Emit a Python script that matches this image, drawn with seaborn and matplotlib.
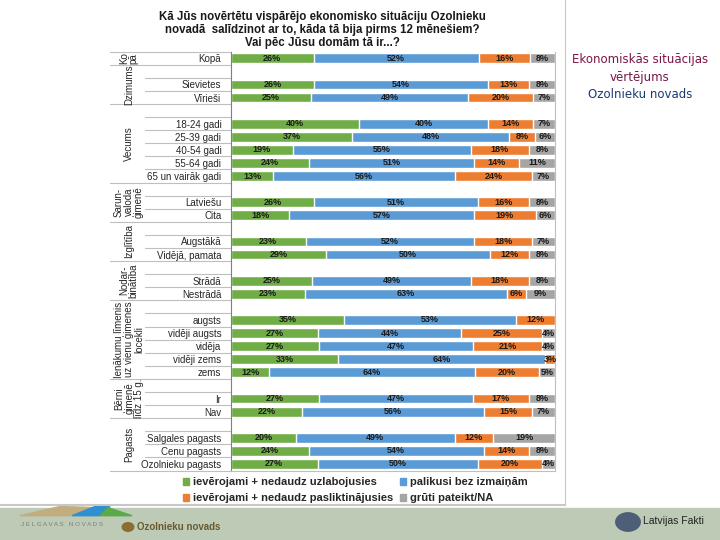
import seaborn as sns
import matplotlib.pyplot as plt
import matplotlib.transforms as mtransforms
from matplotlib.patches import Patch, Rectangle, Circle, Polygon
from matplotlib.lines import Line2D
import pandas as pd

# answer shares (%)
categories = [
    "Kopā",
    "Sievietes", "Vīrieši",
    "18-24 gadi", "25-39 gadi", "40-54 gadi", "55-64 gadi", "65 un vairāk gadi",
    "Latviešu", "Cita",
    "Augstākā", "Vidējā, pamata",
    "Strādā", "Nestrādā",
    "augsts", "vidēji augsts", "vidēja", "vidēji zems", "zems",
    "Ir", "Nav",
    "Salgales pagasts", "Cenu pagasts", "Ozolnieku pagasts",
]
improved = [26, 26, 25, 40, 37, 19, 24, 13, 26, 18, 23, 29, 25, 23, 35, 27, 27, 33, 12, 27, 22, 20, 24, 27]
same = [52, 54, 49, 40, 48, 55, 51, 56, 51, 57, 52, 50, 49, 63, 53, 44, 47, 64, 64, 47, 56, 49, 54, 50]
worse = [16, 13, 20, 14, 8, 18, 14, 24, 16, 19, 18, 12, 18, 6, 12, 25, 21, 3, 20, 17, 15, 12, 14, 20]
unsure = [8, 8, 7, 7, 6, 8, 11, 7, 8, 6, 7, 8, 8, 9, 0, 4, 4, 0, 5, 8, 7, 19, 8, 4]

group_names = ["Ko\npā", "Dzimums", "Vecums", "Sarun-\nvaloda\nģimenē", "Izglītība",
               "Nodar-\nbinātība", "Ienākumu līmenis\nuz vienu ģimenes\nlocekli",
               "Bērni\nģimenē\nlīdz 15 g.", "Pagasts"]
group_sizes = [1, 2, 5, 2, 2, 2, 5, 2, 3]

series_names = ["ievērojami + nedaudz uzlabojusies", "palikusi bez izmaiņām",
                "ievērojami + nedaudz pasliktinājusies", "grūti pateikt/NA"]
colors = ["#70AD47", "#5B9BD5", "#ED7D31", "#A5A5A5"]

# build row order with an empty row in front of every group except the first
order = []
group_rows = []
k = 0
for gi, size in enumerate(group_sizes):
    start = len(order)
    if gi > 0:
        order.append("_gap%d" % gi)
    order.extend(categories[k:k + size])
    k += size
    group_rows.append((start, len(order) - 1))
n = len(order)

df = pd.DataFrame({"cat": categories, "a": improved, "b": same, "c": worse, "d": unsure})
total = df[["a", "b", "c", "d"]].sum(axis=1)
for col in "abcd":
    df[col + "_p"] = df[col] / total * 100
df["cum1"] = df["a_p"]
df["cum2"] = df["cum1"] + df["b_p"]
df["cum3"] = df["cum2"] + df["c_p"]
df["cum4"] = df["cum3"] + df["d_p"]

sns.set_theme(style="white")
plt.rcParams["font.family"] = ["Liberation Sans", "DejaVu Sans"]

fig = plt.figure(figsize=(7.2, 5.4), dpi=100)
ax = fig.add_axes([231 / 720, 1 - 470.5 / 540, (555 - 231) / 720, (470.5 - 51.7) / 540])

# stacked bars: draw the cumulative totals back to front
for cum, color in zip(["cum4", "cum3", "cum2", "cum1"], colors[::-1]):
    sns.barplot(data=df, x=cum, y="cat", order=order, orient="h", color=color,
                saturation=1, width=0.75, errorbar=None, ax=ax)

for _, row in df.iterrows():
    y = order.index(row["cat"])
    left = 0
    for col in "abcd":
        v = row[col]
        w = row[col + "_p"]
        if v > 0:
            ax.text(left + w / 2, y, "%d%%" % v, ha="center", va="center",
                    fontsize=6.5, fontweight="bold", color="#1a1a1a")
        left += w

ax.set_xlim(0, 100)
ax.set_ylim(n - 0.5, -0.5)
ax.set_xticks([])
ax.set_xlabel("")
ax.set_ylabel("")
ax.set_yticks(range(n))
ax.set_yticklabels(["" if c.startswith("_gap") else c for c in order], fontsize=7, color="#262626")
ax.tick_params(axis="y", length=0, pad=7)
ax.spines["top"].set_visible(False)
ax.spines["left"].set_color("#7f7f7f")
ax.spines["right"].set_color("#bfbfbf")
ax.spines["bottom"].set_color("#bfbfbf")
for s in ["left", "right", "bottom"]:
    ax.spines[s].set_linewidth(0.8)

# multi-level category axis: group labels and separator lines
trans = mtransforms.blended_transform_factory(ax.transAxes, ax.transData)
full_x = (110 - 231) / 324
short_x = (145 - 231) / 324
for name, (start, end) in zip(group_names, group_rows):
    ax.text((129 - 231) / 324, (start + end) / 2, name, rotation=90, ha="center", va="center",
            fontsize=7, color="#262626", transform=trans, linespacing=0.95)
    ax.plot([full_x, 0], [start - 0.5, start - 0.5], color="#bfbfbf", lw=0.8,
            transform=trans, clip_on=False)
    for b in range(start, end):
        ax.plot([short_x, 0], [b + 0.5, b + 0.5], color="#bfbfbf", lw=0.8,
                transform=trans, clip_on=False)
ax.plot([full_x, 0], [n - 0.5, n - 0.5], color="#bfbfbf", lw=0.8, transform=trans, clip_on=False)

fig.text(322 / 720, 1 - 11 / 540,
         "Kā Jūs novērtētu vispārējo ekonomisko situāciju Ozolnieku\n"
         "novadā  salīdzinot ar to, kāda tā bija pirms 12 mēnešiem?\n"
         "Vai pēc Jūsu domām tā ir...?",
         ha="center", va="top", fontsize=8.3, fontweight="bold", color="#1a1a1a", linespacing=1.1)

handles = [Patch(color=colors[0]), Patch(color=colors[2]), Patch(color=colors[1]), Patch(color=colors[3])]
labels = [series_names[0], series_names[2], series_names[1], series_names[3]]
fig.legend(handles, labels, ncol=2, loc="center", bbox_to_anchor=(355 / 720, 1 - 490 / 540),
           frameon=False, prop={"size": 8, "weight": "bold"}, handlelength=0.6, handleheight=0.6,
           handletextpad=0.3, columnspacing=0.6, labelspacing=0.55)

# right-hand caption
fig.text(640 / 720, 1 - 60 / 540, "Ekonomiskās situācijas", ha="center", va="center",
         fontsize=8.5, color="#7a1446", family="DejaVu Sans")
fig.text(640 / 720, 1 - 77 / 540, "vērtējums", ha="center", va="center",
         fontsize=8.5, color="#7a1446", family="DejaVu Sans")
fig.text(640 / 720, 1 - 95 / 540, "Ozolnieku novads", ha="center", va="center",
         fontsize=8.5, color="#1b3a73", family="DejaVu Sans")

# chart frame and footer
fig.add_artist(Line2D([565 / 720, 565 / 720], [1 - 505 / 540, 1], color="#c8c8c8", lw=0.8))
fig.add_artist(Line2D([0, 565 / 720], [1 - 505 / 540, 1 - 505 / 540], color="#c8c8c8", lw=1.5))
fig.add_artist(Rectangle((0, 0), 1, 1 - 508 / 540, color="#bccab6", zorder=0))
fig.add_artist(Polygon([(20 / 720, 0.045), (60 / 720, 0.062), (95 / 720, 0.06), (70 / 720, 0.045)],
                       color="#c2ad7f"))
fig.add_artist(Polygon([(72 / 720, 0.045), (95 / 720, 0.062), (110 / 720, 0.062), (100 / 720, 0.045)],
                       color="#2f8fcf"))
fig.add_artist(Polygon([(100 / 720, 0.045), (108 / 720, 0.06), (132 / 720, 0.045)], color="#5aaa4a"))
fig.text(62 / 720, 0.028, "J E L G A V A S   N O V A D S", ha="center", va="center",
         fontsize=4.5, color="#7d7d7d")
fig.add_artist(Circle((128 / 720, 1 - 527 / 540), 0.008, color="#8a6d2f"))
fig.text(137 / 720, 1 - 527 / 540, "Ozolnieku novads", ha="left", va="center", fontsize=7,
         fontweight="bold", color="#6b5a2e", family=["Liberation Sans Narrow", "Liberation Sans"])
fig.add_artist(Circle((628 / 720, 1 - 522 / 540), 0.017, color="#4c5f77"))
fig.text(643 / 720, 1 - 521 / 540, "Latvijas Fakti", ha="left", va="center", fontsize=7.5,
         color="#222222", family=["Liberation Sans Narrow", "Liberation Sans"])

fig.savefig("out.png", dpi=100)
